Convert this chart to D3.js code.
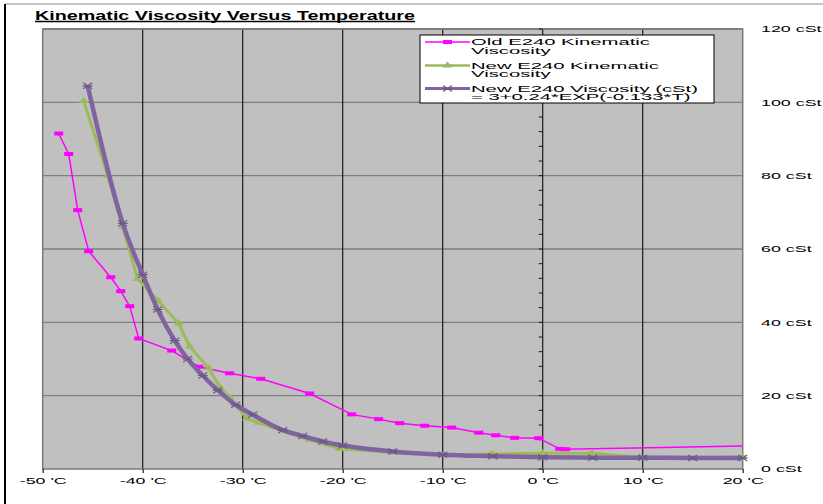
<!DOCTYPE html>
<html>
<head>
<meta charset="utf-8">
<script src="https://cdn.jsdelivr.net/npm/d3@7"></script>
<style>
	body { margin: 0; background: #fff; }
	text { font-family: "Liberation Sans", Arial, sans-serif; fill: #000; }
</style>
</head>
<body>
<svg id="chart" width="823" height="504"></svg>
<script>
// values
const oldTemps = [-48.4, -47.4, -46.5, -45.4, -43.2, -42.2, -41.3, -40.4, -37.1, -34.4, -31.3, -28.2, -23.3, -19.1, -16.4, -14.3, -11.8, -9.1, -6.4, -4.7, -2.8, -0.4, 1.7, 2.3, 22];
const oldVisc = [91.5, 85.9, 70.6, 59.4, 52.3, 48.5, 44.4, 35.6, 32.3, 27.9, 26.1, 24.6, 20.6, 14.9, 13.6, 12.5, 11.8, 11.3, 9.9, 9.2, 8.5, 8.4, 5.5, 5.4, 6.4];

const newTemps = [-45.9, -43.5, -42, -40.5, -38.5, -36.4, -35.3, -33.4, -32.3, -31.3, -29.6, -28.4, -23.3, -20.3, -15.1, -9.9, -5.1, 0, 4.9, 9.7, 20];
const newVisc = [100.4, 80, 66, 51.8, 46.0, 39.7, 33.4, 27.5, 22.4, 19.5, 13.8, 12.6, 7.9, 5.5, 4.5, 3.8, 4.1, 4.3, 4.3, 3.2, 3.3];

const fitTemps = [-45.5, -42, -40, -38.5, -36.8, -35.5, -34, -32.5, -30.7, -29, -26, -24, -22, -20, -15, -10, -5, 0, 5, 10, 15, 20];
const fitVisc = [104.5, 67, 53, 43.5, 35, 30, 25.5, 21.5, 17.5, 14.8, 10.6, 9, 7.5, 6.4, 4.8, 3.9, 3.5, 3.2, 3.1, 3.1, 3.0, 3.0];

const xTicks = [-50, -40, -30, -20, -10, 0, 10, 20];
const yTicks = [0, 20, 40, 60, 80, 100, 120];
const yMinorTicks = d3.range(0, 121, 4);

const chartTitle = "Kinematic Viscosity Versus Temperature";
const seriesNames = [
	["Old E240 Kinematic", "Viscosity"],
	["New E240 Kinematic", "Viscosity"],
	["New E240 Viscosity (cSt)", "= 3+0.24*EXP(-0.133*T)"]
];

const colors = { old: "#ff00ff", neu: "#9bbb59", fit: "#8064a2", fitMark: "#6b5a86" };
const plot = { left: 42.7, right: 742.7, top: 29, bottom: 469 };

const x = d3.scaleLinear().domain([-50, 20]).range([plot.left, plot.right]);
const y = d3.scaleLinear().domain([0, 120]).range([plot.bottom, plot.top]);

const svg = d3.select("#chart");

// stretch text sideways like the source picture
function stretch(selection, factor) {
	selection.each(function () {
		const w = this.getComputedTextLength();
		d3.select(this)
			.attr("textLength", w * factor)
			.attr("lengthAdjust", "spacingAndGlyphs");
	});
}

// outer frame
svg.append("line")
	.attr("x1", 5).attr("x2", 823).attr("y1", 4).attr("y2", 4)
	.attr("stroke", "#8c8c8c");
svg.append("line")
	.attr("x1", 5).attr("x2", 5).attr("y1", 4).attr("y2", 504)
	.attr("stroke", "#000").attr("stroke-width", 2);

// title
svg.append("text")
	.attr("x", 35).attr("y", 19.5)
	.attr("font-size", 13.5).attr("font-weight", "bold")
	.attr("textLength", 380).attr("lengthAdjust", "spacingAndGlyphs")
	.text(chartTitle);
svg.append("line")
	.attr("x1", 35).attr("x2", 415).attr("y1", 21.5).attr("y2", 21.5)
	.attr("stroke", "#000").attr("stroke-width", 1.5);

// plot area
svg.append("rect")
	.attr("x", plot.left).attr("y", plot.top)
	.attr("width", plot.right - plot.left).attr("height", plot.bottom - plot.top)
	.attr("fill", "#c0c0c0");

svg.append("g")
	.classed("hgrid", true)
	.selectAll("line")
	.data(yTicks.filter(v => v > 0)).enter()
	.append("line")
	.attr("x1", plot.left).attr("x2", plot.right)
	.attr("y1", d => y(d)).attr("y2", d => y(d))
	.attr("stroke", "#7f7f7f").attr("stroke-width", 1.3);

svg.append("g")
	.classed("vgrid", true)
	.selectAll("line")
	.data(xTicks.filter(v => v > -50 && v < 20)).enter()
	.append("line")
	.attr("x1", d => x(d)).attr("x2", d => x(d))
	.attr("y1", plot.top).attr("y2", plot.bottom)
	.attr("stroke", "#1a1a1a").attr("stroke-width", 1.2);

svg.append("rect")
	.attr("x", plot.left).attr("y", plot.top)
	.attr("width", plot.right - plot.left).attr("height", plot.bottom - plot.top)
	.attr("fill", "none")
	.attr("stroke", "#7a7a7a").attr("stroke-width", 1.5);

// minor ticks of the value axis, crossing at 0 'C
svg.append("g")
	.classed("minor", true)
	.selectAll("line")
	.data(yMinorTicks).enter()
	.append("line")
	.attr("x1", x(0) - 4).attr("x2", x(0))
	.attr("y1", d => y(d)).attr("y2", d => y(d))
	.attr("stroke", "#1a1a1a");

// axes
const xAxis = svg.append("g")
	.attr("transform", `translate(0,${plot.bottom})`)
	.call(d3.axisBottom(x).tickValues(xTicks).tickSize(4).tickPadding(5).tickFormat(d => `${d} 'C`));
xAxis.select(".domain").remove();
xAxis.selectAll(".tick line").attr("stroke", "#1a1a1a").attr("stroke-width", 1.2);
xAxis.selectAll("text")
	.attr("font-size", 8.5).attr("fill", "#000")
	.call(stretch, 2.1);

const yAxis = svg.append("g")
	.attr("transform", "translate(761,0)")
	.call(d3.axisRight(y).tickValues(yTicks).tickSize(0).tickPadding(0).tickFormat(d => `${d} cSt`));
yAxis.select(".domain").remove();
yAxis.selectAll("text")
	.attr("font-size", 8.5).attr("fill", "#000")
	.call(stretch, 2.1);

// series
const oldData = oldTemps.map((t, i) => ({ t: t, v: oldVisc[i] }));
const newData = newTemps.map((t, i) => ({ t: t, v: newVisc[i] }));
const fitData = fitTemps.map((t, i) => ({ t: t, v: fitVisc[i] }));

svg.append("clipPath").attr("id", "plotClip")
	.append("rect")
	.attr("x", plot.left).attr("y", plot.top)
	.attr("width", plot.right - plot.left).attr("height", plot.bottom - plot.top);

const line = d3.line().x(d => x(d.t)).y(d => y(d.v));
const smooth = d3.line().x(d => x(d.t)).y(d => y(d.v)).curve(d3.curveMonotoneX);

const triangle = d3.symbol(d3.symbolTriangle).size(22)();
const cross = "M-4.5,-3L4.5,3M-4.5,3L4.5,-3M-5,0L5,0";

// old
svg.append("path")
	.datum(oldData)
	.attr("clip-path", "url(#plotClip)")
	.attr("d", line)
	.attr("fill", "none").attr("stroke", colors.old).attr("stroke-width", 1.5);
svg.append("g")
	.selectAll("rect")
	.data(oldData.filter(d => d.t <= 20)).enter()
	.append("rect")
	.attr("x", d => x(d.t) - 4.5).attr("y", d => y(d.v) - 2)
	.attr("width", 9).attr("height", 4)
	.attr("fill", colors.old);

// new
svg.append("path")
	.datum(newData)
	.attr("d", line)
	.attr("fill", "none").attr("stroke", colors.neu).attr("stroke-width", 3)
	.attr("stroke-linejoin", "round");
svg.append("g")
	.selectAll("path")
	.data(newData).enter()
	.append("path")
	.attr("d", triangle)
	.attr("transform", d => `translate(${x(d.t)},${y(d.v)}) scale(1.4,1)`)
	.attr("fill", colors.neu);

// fitted curve
svg.append("path")
	.datum(fitData)
	.attr("d", smooth)
	.attr("fill", "none").attr("stroke", colors.fit).attr("stroke-width", 4.5)
	.attr("stroke-linejoin", "round");
svg.append("g")
	.selectAll("path")
	.data(fitData).enter()
	.append("path")
	.attr("d", cross)
	.attr("transform", d => `translate(${x(d.t)},${y(d.v)})`)
	.attr("fill", "none").attr("stroke", colors.fitMark).attr("stroke-width", 1.2);

// legend
const legend = svg.append("g").attr("transform", "translate(420,35)");
legend.append("rect")
	.attr("width", 294).attr("height", 68)
	.attr("fill", "#fff").attr("stroke", "#000").attr("stroke-width", 1);

const rowY = [7, 30.5, 53.5];
const entries = legend.selectAll("g.entry")
	.data(seriesNames).enter()
	.append("g")
	.classed("entry", true)
	.attr("transform", (d, i) => `translate(0,${rowY[i]})`);

entries.append("line")
	.attr("x1", 5).attr("x2", 50)
	.attr("stroke", (d, i) => [colors.old, colors.neu, colors.fit][i])
	.attr("stroke-width", (d, i) => [1.5, 2.5, 3][i]);

entries.filter((d, i) => i === 0).append("rect")
	.attr("x", 23).attr("y", -2).attr("width", 9).attr("height", 4)
	.attr("fill", colors.old);
entries.filter((d, i) => i === 1).append("path")
	.attr("d", triangle)
	.attr("transform", "translate(27.5,0) scale(1.4,1)")
	.attr("fill", colors.neu);
entries.filter((d, i) => i === 2).append("path")
	.attr("d", cross)
	.attr("transform", "translate(27.5,0)")
	.attr("fill", "none").attr("stroke", colors.fitMark).attr("stroke-width", 1.2);

entries.selectAll("text")
	.data(d => d).enter()
	.append("text")
	.attr("x", 51)
	.attr("y", (d, j) => 3.2 + j * 8.6)
	.attr("font-size", 9)
	.text(d => d)
	.call(stretch, 2.25);
</script>
</body>
</html>
